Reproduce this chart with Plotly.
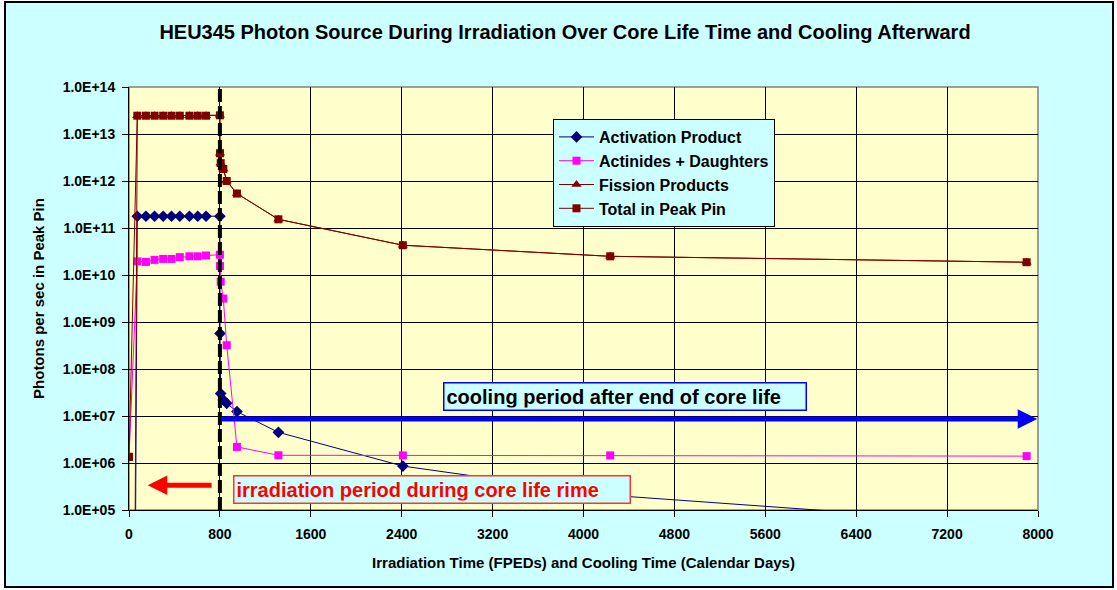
import math
import plotly.graph_objects as go

# ---------------- data ----------------
time_days = [0, 73, 149, 225, 301, 374, 447, 532, 605, 678, 800,
             801, 807, 830, 860, 950, 1315, 2410, 4235, 7900]

activation_product = [1e-20, 1.78e11, 1.78e11, 1.78e11, 1.78e11, 1.78e11, 1.78e11, 1.78e11, 1.78e11, 1.78e11, 1.78e11,
                      5.7e8, 3.0e7, 2.2e7, 1.86e7, 1.24e7, 4.5e6, 8.6e5, 2.06e5, 4.8e4]

actinides_daughters = [1.35e6, 1.95e10, 1.9e10, 2.1e10, 2.2e10, 2.2e10, 2.4e10, 2.5e10, 2.5e10, 2.6e10, 2.7e10,
                       1.55e10, 7.2e9, 3.15e9, 3.2e8, 2.2e6, 1.46e6, 1.45e6, 1.45e6, 1.4e6]

fission_products = [1e-20, 2.45e13, 2.45e13, 2.45e13, 2.45e13, 2.45e13, 2.45e13, 2.45e13, 2.45e13, 2.45e13, 2.5e13,
                    3.9e12, 2.4e12, 1.8e12, 1.0e12, 5.4e11, 1.53e11, 4.3e10, 2.5e10, 1.87e10]

total_peak_pin = [1.35e6, 2.45e13, 2.45e13, 2.45e13, 2.45e13, 2.45e13, 2.45e13, 2.45e13, 2.45e13, 2.45e13, 2.5e13,
                  3.9e12, 2.4e12, 1.8e12, 1.0e12, 5.4e11, 1.53e11, 4.3e10, 2.5e10, 1.87e10]

x_ticks = [0, 800, 1600, 2400, 3200, 4000, 4800, 5600, 6400, 7200, 8000]
y_exponents = [5, 6, 7, 8, 9, 10, 11, 12, 13, 14]
y_tick_labels = ["1.0E+05", "1.0E+06", "1.0E+07", "1.0E+08", "1.0E+09",
                 "1.0E+10", "1.0E+11", "1.0E+12", "1.0E+13", "1.0E+14"]

end_of_core_life = 800
cooling_arrow_level = 8.6e6
irradiation_arrow_level = 3.35e5

# ---------------- figure ----------------
FONT = "Liberation Sans, Arial, sans-serif"
PAPER = "#CCFFFF"
PLOT = "#FFFFCC"

L, R, T, B = 129, 79, 87, 80
W, H = 1117, 590
pw, ph = W - L - R, H - T - B


def px_x(p):
    return (p - L) / pw


def px_y(p):
    return (H - B - p) / ph


fig = go.Figure()

fig.add_trace(go.Scatter(
    x=time_days, y=activation_product, name="Activation Product", mode="lines+markers",
    line=dict(color="#000080", width=1),
    marker=dict(symbol="diamond", size=9, color="#000080")))
fig.add_trace(go.Scatter(
    x=time_days, y=actinides_daughters, name="Actinides + Daughters", mode="lines+markers",
    line=dict(color="#FF00FF", width=1),
    marker=dict(symbol="square", size=8, color="#FF00FF")))
fig.add_trace(go.Scatter(
    x=time_days, y=fission_products, name="Fission Products", mode="lines+markers",
    line=dict(color="#800000", width=1),
    marker=dict(symbol="triangle-up", size=9, color="#800000")))
fig.add_trace(go.Scatter(
    x=time_days, y=total_peak_pin, name="Total in Peak Pin", mode="lines+markers",
    line=dict(color="#800000", width=1),
    marker=dict(symbol="square", size=8, color="#800000")))

annotations = [
    # blue arrow: cooling period
    dict(x=7993, y=math.log10(cooling_arrow_level), ax=end_of_core_life, ay=math.log10(cooling_arrow_level),
         xref="x", yref="y", axref="x", ayref="y", text="", showarrow=True,
         arrowhead=2, arrowsize=0.78, arrowwidth=5, arrowcolor="#0000FF"),
    # red arrow: irradiation period
    dict(x=165, y=math.log10(irradiation_arrow_level), ax=740, ay=math.log10(irradiation_arrow_level),
         xref="x", yref="y", axref="x", ayref="y", text="", showarrow=True,
         arrowhead=2, arrowsize=0.78, arrowwidth=5, arrowcolor="#FF0000"),
    dict(x=4366, y=7.415, xref="x", yref="y", showarrow=False,
         text="cooling period after end of core life", align="left",
         width=357, height=22, borderpad=2, borderwidth=1.5,
         bgcolor=PAPER, bordercolor="#0000FF",
         font=dict(family=FONT, size=20, color="#000000", weight="bold")),
    dict(x=2667, y=5.44, xref="x", yref="y", showarrow=False,
         text="irradiation period during core life rime", align="left",
         width=391, height=22, borderpad=2, borderwidth=1.5,
         bgcolor=PAPER, bordercolor="#FF3333",
         font=dict(family=FONT, size=20, color="#FF0000", weight="bold")),
]

shapes = [
    # outer chart frame (cyan area with black border)
    dict(type="rect", xref="paper", yref="paper",
         x0=px_x(5), x1=px_x(1113), y0=px_y(587), y1=px_y(2),
         fillcolor=PAPER, line=dict(color="#000000", width=2), layer="below"),
    # plot area background
    dict(type="rect", xref="paper", yref="paper", x0=0, x1=1, y0=0, y1=1,
         fillcolor=PLOT, line=dict(color="#808080", width=1.5), layer="below"),
    # end of core life dashed line
    dict(type="line", xref="x", yref="paper", x0=end_of_core_life, x1=end_of_core_life, y0=0, y1=1,
         line=dict(color="#000000", width=4, dash="13px,4px"), layer="above"),
]

fig.update_layout(
    width=W, height=H,
    margin=dict(l=L, r=R, t=T, b=B, pad=0),
    paper_bgcolor="#FFFFFF", plot_bgcolor=PLOT,
    font=dict(family=FONT, color="#000000"),
    title=dict(text="HEU345 Photon Source During Irradiation Over Core Life Time and Cooling Afterward",
               x=565 / W, xanchor="center", y=1 - 32 / H, yanchor="middle",
               font=dict(family=FONT, size=20, weight="bold", color="#000000")),
    showlegend=True,
    legend=dict(x=px_x(553), y=px_y(119), xanchor="left", yanchor="top",
                bgcolor=PAPER, bordercolor="#000000", borderwidth=1,
                font=dict(family=FONT, size=16, weight="bold", color="#000000"),
                tracegroupgap=0, itemwidth=35),
    annotations=annotations,
    shapes=shapes,
)

fig.update_xaxes(
    range=[0, 8000], tickvals=x_ticks, ticktext=[str(v) for v in x_ticks],
    showgrid=True, gridcolor="#000000", gridwidth=1,
    showline=True, linecolor="#000000", linewidth=1,
    ticks="outside", ticklen=6, tickcolor="#000000", ticklabelstandoff=5,
    tickfont=dict(family=FONT, size=14, weight="bold"),
    zeroline=False,
    title=dict(text="Irradiation Time (FPEDs) and Cooling Time (Calendar Days)",
               font=dict(family=FONT, size=15, weight="bold"), standoff=16),
)
fig.update_yaxes(
    type="log", range=[5, 14],
    tickvals=[10 ** e for e in y_exponents], ticktext=y_tick_labels,
    showgrid=True, gridcolor="#000000", gridwidth=1,
    showline=True, linecolor="#000000", linewidth=1,
    ticks="outside", ticklen=6, tickcolor="#000000", ticklabelstandoff=4,
    tickfont=dict(family=FONT, size=14, weight="bold"),
    zeroline=False,
    title=dict(text="Photons per sec in Peak Pin",
               font=dict(family=FONT, size=15, weight="bold"), standoff=14),
)

fig.write_html("out.html",
               config={"displayModeBar": False},
               post_script="document.body.style.margin='0';document.body.style.overflow='hidden';")
